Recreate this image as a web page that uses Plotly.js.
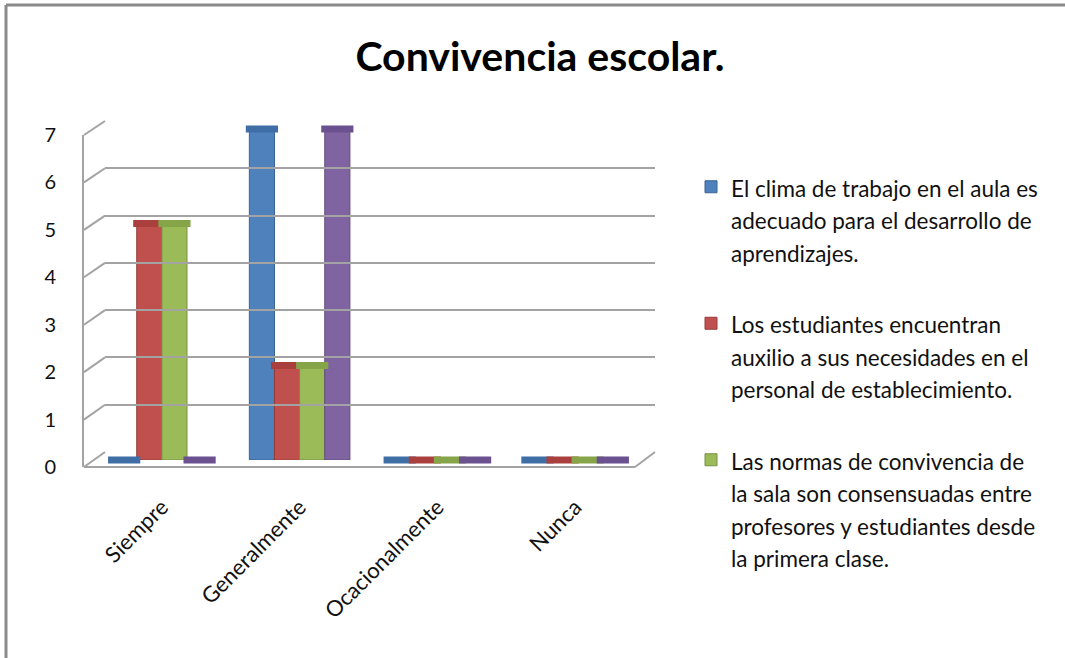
<!DOCTYPE html>
<html>
<head>
<meta charset="utf-8">
<script src="https://cdn.plot.ly/plotly-3.0.1.min.js"></script>
<style>html,body{margin:0;padding:0;background:#fff;}#chart{width:1065px;height:658px;}</style>
</head>
<body>
<div id="chart"></div>
<script>
// ---- data ----
const categories = ["Siempre", "Generalmente", "Ocacionalmente", "Nunca"];
const climaTrabajo = [0, 7, 0, 0];
const auxilioEstudiantes = [5, 2, 0, 0];
const normasConvivencia = [5, 2, 0, 0];
const serie4 = [0, 7, 0, 0];
const yTicks = [0, 1, 2, 3, 4, 5, 6, 7];
const seriesNames = [
  ["El clima de trabajo en el aula es", "adecuado para el desarrollo de", "aprendizajes."],
  ["Los estudiantes encuentran", "auxilio a sus necesidades en el", "personal de establecimiento."],
  ["Las normas de convivencia de", "la sala son consensuadas entre", "profesores y estudiantes desde", "la primera clase."],
  ["Serie 4"]
];
const titleText = "Convivencia escolar.";

// ---- styling / geometry ----
const W = 1065, H = 658;
const FONT = "Lato, 'Open Sans', sans-serif";
const colors = ["#4f81bd", "#c0504d", "#9bbb59", "#8064a2"];
const capColors = ["#3f6ea6", "#a9403d", "#86a448", "#6b5190"];
const lineColors = ["#3a6494", "#943c3a", "#779143", "#624c7d"];
const fx = px => px / W;
const fy = py => 1 - py / H;

const front = {x0: 84, x1: 635, y0: 467, y7: 135};
const back = {x0: 105, x1: 655, y0: 452, y7: 121};
const mid = {x0: 93, x1: 644, y0: 460, y7: 129};
const yMax = 7;
const gridCol = "#a3a3a3";

const values = [climaTrabajo, auxilioEstudiantes, normasConvivencia, serie4];
const legendLabel = lines => lines.map(l => '<span style="font-size:22.5px">' + l + '</span>').join("<br>");

const traces = [];
values.forEach((vals, i) => {
  traces.push({
    type: "bar", x: categories, y: vals, name: legendLabel(seriesNames[i]),
    legendgroup: "g" + i, showlegend: i < 3,
    offsetgroup: "b" + i, alignmentgroup: "bars",
    marker: {color: colors[i], line: {color: lineColors[i], width: 1}},
    xaxis: "x", yaxis: "y", hoverinfo: "skip"
  });
});
values.forEach((vals, i) => {
  traces.push({
    type: "scatter", mode: "markers", x: categories, y: vals,
    showlegend: false, legendgroup: "c" + i, offsetgroup: "c" + i, alignmentgroup: "caps",
    marker: {symbol: "line-ew", size: 23, line: {width: 7, color: capColors[i]}},
    xaxis: "x", yaxis: "y", hoverinfo: "skip", cliponaxis: false
  });
});
traces.push({type: "scatter", mode: "none", x: categories, y: climaTrabajo, xaxis: "x2", yaxis: "y2", showlegend: false, hoverinfo: "skip"});
traces.push({type: "scatter", mode: "none", x: categories, y: climaTrabajo, xaxis: "x3", yaxis: "y3", showlegend: false, hoverinfo: "skip"});

const shapes = [];
yTicks.forEach(v => {
  const yf = front.y0 + (front.y7 - front.y0) * v / yMax;
  const yb = back.y0 + (back.y7 - back.y0) * v / yMax;
  shapes.push({type: "line", xref: "paper", yref: "paper", x0: fx(front.x0), y0: fy(yf), x1: fx(back.x0), y1: fy(yb), line: {color: gridCol, width: 2}, layer: "below"});
});
shapes.push({type: "line", xref: "paper", yref: "paper", x0: fx(front.x0), y0: fy(front.y0), x1: fx(front.x1), y1: fy(front.y0), line: {color: gridCol, width: 2}, layer: "below"});
shapes.push({type: "line", xref: "paper", yref: "paper", x0: fx(front.x1), y0: fy(front.y0), x1: fx(back.x1), y1: fy(back.y0), line: {color: gridCol, width: 2}, layer: "below"});
shapes.push({type: "line", xref: "paper", yref: "paper", x0: fx(6), y0: fy(5), x1: 1, y1: fy(5), line: {color: "#8a8a8a", width: 3}});
shapes.push({type: "line", xref: "paper", yref: "paper", x0: fx(6), y0: fy(5), x1: fx(6), y1: 0, line: {color: "#8a8a8a", width: 3}});

const layout = {
  width: W, height: H, autosize: false,
  margin: {l: 0, r: 0, t: 0, b: 0, pad: 0},
  paper_bgcolor: "#fff", plot_bgcolor: "rgba(0,0,0,0)",
  font: {family: FONT, color: "#111"},
  title: {text: titleText, x: 540 / W, xanchor: "center", y: 1 - 57 / H, yanchor: "middle",
          font: {family: FONT, size: 41, weight: "bold", color: "#000"}},
  barmode: "group", bargap: 0.27, bargroupgap: 0,
  scattermode: "group", scattergap: 0.27,
  showlegend: true,
  legend: {x: fx(691), y: fy(164), xanchor: "left", yanchor: "top",
           font: {family: FONT, size: 25, color: "#111"}, valign: "top",
           traceorder: "grouped", tracegroupgap: 36, itemclick: false, bgcolor: "rgba(0,0,0,0)"},
  xaxis: {domain: [fx(mid.x0), fx(mid.x1)], anchor: "y", type: "category", range: [-0.5, 3.5],
          showgrid: false, zeroline: false, showline: false, ticks: "",
          tickangle: -45, tickfont: {family: FONT, size: 22, color: "#111"}, ticklabelstandoff: 29},
  yaxis: {domain: [fy(mid.y0), fy(mid.y7)], anchor: "x", range: [0, yMax],
          showgrid: false, zeroline: false, showline: false, showticklabels: false, ticks: ""},
  xaxis2: {domain: [fx(back.x0), fx(back.x1)], anchor: "y2", type: "category", range: [-0.5, 3.5],
           showgrid: false, zeroline: false, showline: false, showticklabels: false, ticks: ""},
  yaxis2: {domain: [fy(back.y0), fy(back.y7)], anchor: "x2", range: [0, yMax], dtick: 1,
           showgrid: true, gridcolor: gridCol, gridwidth: 2, zeroline: false, showline: false,
           showticklabels: false, ticks: "", layer: "below traces"},
  xaxis3: {domain: [fx(front.x0), fx(front.x1)], anchor: "y3", type: "category", range: [-0.5, 3.5],
           showgrid: false, zeroline: false, showline: false, showticklabels: false, ticks: ""},
  yaxis3: {domain: [fy(front.y0), fy(front.y7)], anchor: "x3", range: [0, yMax],
           tickvals: yTicks, ticktext: yTicks.map(String),
           showgrid: false, zeroline: false, showline: true, linecolor: gridCol, linewidth: 2,
           ticks: "", tickfont: {family: FONT, size: 20, color: "#111"}, ticklabelstandoff: 22},
  shapes: shapes
};

Plotly.newPlot("chart", traces, layout, {displayModeBar: false, staticPlot: true});
</script>
</body>
</html>
